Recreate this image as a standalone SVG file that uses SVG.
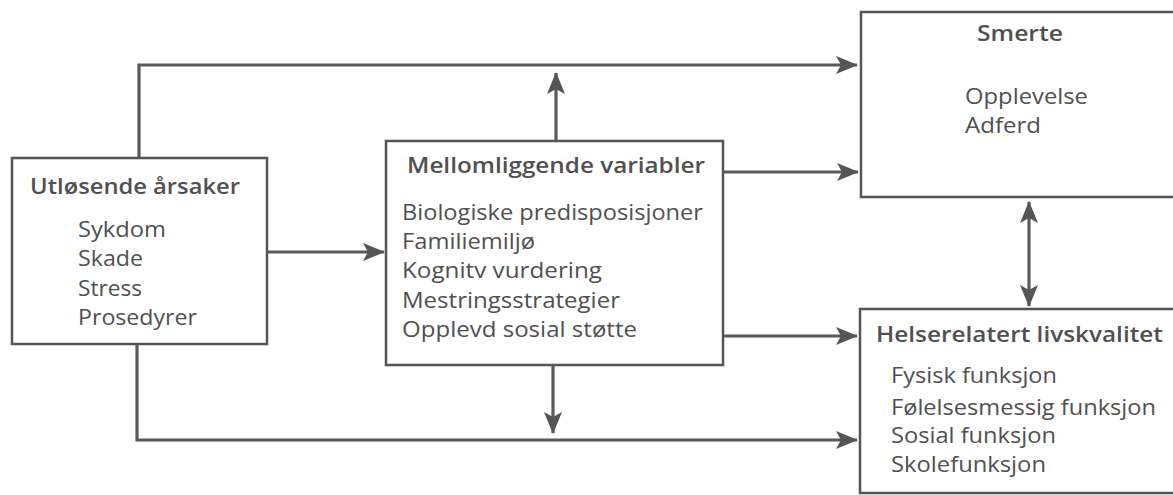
<svg xmlns="http://www.w3.org/2000/svg" width="1173" height="495" viewBox="0 0 1173 495">
<style>
.box{fill:#fff;stroke:#555;stroke-width:2.5}
.ln{fill:none;stroke:#5a5a5a;stroke-width:3.2}
.t{font-family:"Open Sans",Lato,"Liberation Sans",sans-serif;font-size:22px;fill:#505050}
.b{font-weight:600}
</style>
<defs>
<marker id="ah" viewBox="0 0 22 18" refX="21" refY="9" markerWidth="22" markerHeight="18" markerUnits="userSpaceOnUse" orient="auto">
<path d="M0,0 L22,9 L0,18 L5,9 Z" fill="#555"/>
</marker>
</defs>
<rect width="1173" height="495" fill="#fff"/>
<g id="connectors">
<polyline class="ln" points="139,158 139,65 857,65" marker-end="url(#ah)"/>
<line class="ln" x1="556" y1="140" x2="556" y2="73" marker-end="url(#ah)"/>
<line class="ln" x1="268" y1="252" x2="384" y2="252" marker-end="url(#ah)"/>
<line class="ln" x1="724" y1="172" x2="858" y2="172" marker-end="url(#ah)"/>
<line class="ln" x1="724" y1="336" x2="857" y2="336" marker-end="url(#ah)"/>
<line class="ln" x1="553" y1="365" x2="553" y2="433" marker-end="url(#ah)"/>
<polyline class="ln" points="137,344 137,440 857,440" marker-end="url(#ah)"/>
<line class="ln" x1="1029" y1="254" x2="1029" y2="202" marker-end="url(#ah)"/>
<line class="ln" x1="1029" y1="254" x2="1029" y2="306" marker-end="url(#ah)"/>
</g>
<g id="utlosende">
<rect class="box" x="12" y="158" width="255" height="186"/>
<text class="t b" x="30" y="194" textLength="210" lengthAdjust="spacingAndGlyphs">Utløsende årsaker</text>
<text class="t" x="78" y="237" textLength="88" lengthAdjust="spacingAndGlyphs">Sykdom</text>
<text class="t" x="78" y="266" textLength="65" lengthAdjust="spacingAndGlyphs">Skade</text>
<text class="t" x="78" y="296" textLength="64" lengthAdjust="spacingAndGlyphs">Stress</text>
<text class="t" x="78" y="325" textLength="119" lengthAdjust="spacingAndGlyphs">Prosedyrer</text>
</g>
<g id="mellomliggende">
<rect class="box" x="386" y="141" width="337" height="224"/>
<text class="t b" x="407" y="173" textLength="298" lengthAdjust="spacingAndGlyphs">Mellomliggende variabler</text>
<text class="t" x="402" y="220" textLength="301" lengthAdjust="spacingAndGlyphs">Biologiske predisposisjoner</text>
<text class="t" x="402" y="249" textLength="133" lengthAdjust="spacingAndGlyphs">Familiemiljø</text>
<text class="t" x="402" y="278" textLength="200" lengthAdjust="spacingAndGlyphs">Kognitv vurdering</text>
<text class="t" x="402" y="308" textLength="218" lengthAdjust="spacingAndGlyphs">Mestringsstrategier</text>
<text class="t" x="402" y="337" textLength="235" lengthAdjust="spacingAndGlyphs">Opplevd sosial støtte</text>
</g>
<g id="smerte">
<rect class="box" x="861" y="12" width="330" height="185"/>
<text class="t b" x="977" y="41" textLength="86" lengthAdjust="spacingAndGlyphs">Smerte</text>
<text class="t" x="965" y="104" textLength="123" lengthAdjust="spacingAndGlyphs">Opplevelse</text>
<text class="t" x="965" y="133" textLength="76" lengthAdjust="spacingAndGlyphs">Adferd</text>
</g>
<g id="helserelatert">
<rect class="box" x="860" y="309" width="330" height="184"/>
<text class="t b" x="876" y="342" textLength="287" lengthAdjust="spacingAndGlyphs">Helserelatert livskvalitet</text>
<text class="t" x="891" y="383" textLength="166" lengthAdjust="spacingAndGlyphs">Fysisk funksjon</text>
<text class="t" x="891" y="415" textLength="265" lengthAdjust="spacingAndGlyphs">Følelsesmessig funksjon</text>
<text class="t" x="891" y="443" textLength="165" lengthAdjust="spacingAndGlyphs">Sosial funksjon</text>
<text class="t" x="891" y="472" textLength="155" lengthAdjust="spacingAndGlyphs">Skolefunksjon</text>
</g>
</svg>
